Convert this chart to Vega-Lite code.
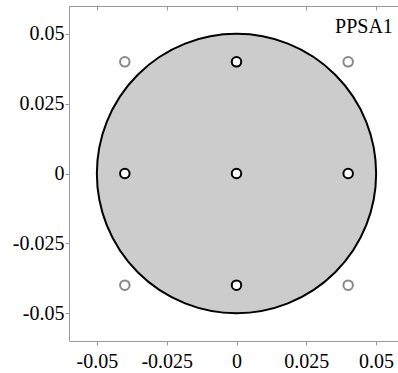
{
  "$schema": "https://vega.github.io/schema/vega-lite/v6.json",
  "width": 335,
  "height": 335,
  "autosize": {"type": "none"},
  "padding": {"left": 69, "top": 6, "right": 0, "bottom": 32},
  "background": "white",
  "config": {
    "view": {"stroke": null},
    "font": "Liberation Serif",
    "axis": {
      "grid": false,
      "domainColor": "#999999",
      "tickColor": "#999999",
      "labelColor": "black",
      "labelFont": "Liberation Serif",
      "labelFontSize": 20,
      "tickSize": 4,
      "title": null
    }
  },
  "datasets": {
    "big": [{"x": 0, "y": 0}],
    "inner": [
      {"x": 0, "y": 0.04},
      {"x": -0.04, "y": 0},
      {"x": 0, "y": 0},
      {"x": 0.04, "y": 0},
      {"x": 0, "y": -0.04}
    ],
    "outer": [
      {"x": -0.04, "y": 0.04},
      {"x": 0.04, "y": 0.04},
      {"x": -0.04, "y": -0.04},
      {"x": 0.04, "y": -0.04}
    ],
    "label": [{"x": 0.056, "y": 0.0505, "t": "PPSA1"}]
  },
  "layer": [
    {
      "data": {"name": "big"},
      "mark": {"type": "point", "shape": "circle", "filled": true, "fill": "#cccccc", "stroke": "black", "strokeWidth": 2, "opacity": 1, "size": 78000},
      "encoding": {
        "x": {"field": "x", "type": "quantitative", "scale": {"domain": [-0.06, 0.06], "nice": false, "zero": false},
              "axis": {"orient": "bottom", "values": [-0.05, -0.025, 0, 0.025, 0.05], "labelExpr": "datum.value == 0 ? '0' : replace(format(datum.value, ''), '−', '-')", "labelPadding": 6, "labelFlush": false}},
        "y": {"field": "y", "type": "quantitative", "scale": {"domain": [-0.06, 0.06], "nice": false, "zero": false},
              "axis": {"orient": "left", "values": [-0.05, -0.025, 0, 0.025, 0.05], "labelExpr": "datum.value == 0 ? '0' : replace(format(datum.value, ''), '−', '-')", "labelPadding": 1, "labelFlush": false}}
      }
    },
    {
      "data": {"name": "outer"},
      "mark": {"type": "point", "shape": "circle", "filled": true, "fill": "white", "stroke": "#888888", "strokeWidth": 2, "opacity": 1, "size": 90},
      "encoding": {
        "x": {"field": "x", "type": "quantitative", "axis": null},
        "y": {"field": "y", "type": "quantitative", "axis": null}
      }
    },
    {
      "data": {"name": "inner"},
      "mark": {"type": "point", "shape": "circle", "filled": true, "fill": "white", "stroke": "black", "strokeWidth": 2, "opacity": 1, "size": 90},
      "encoding": {
        "x": {"field": "x", "type": "quantitative", "axis": null},
        "y": {"field": "y", "type": "quantitative", "axis": null}
      }
    },
    {
      "data": {"name": "label"},
      "mark": {"type": "text", "align": "right", "baseline": "alphabetic", "font": "Liberation Serif", "fontSize": 20, "color": "black"},
      "encoding": {
        "x": {"field": "x", "type": "quantitative", "axis": null},
        "y": {"field": "y", "type": "quantitative", "axis": null},
        "text": {"field": "t"}
      }
    },
    {
      "data": {"name": "big"},
      "mark": {"type": "point", "opacity": 0},
      "encoding": {
        "x": {"field": "x", "type": "quantitative", "axis": {"orient": "top", "values": [-0.05, -0.025, 0, 0.025, 0.05], "labels": false, "tickSize": -4}},
        "y": {"field": "y", "type": "quantitative", "axis": {"orient": "right", "values": [-0.05, -0.025, 0, 0.025, 0.05], "labels": false, "tickSize": -4}}
      }
    }
  ],
  "resolve": {"axis": {"x": "independent", "y": "independent"}}
}
